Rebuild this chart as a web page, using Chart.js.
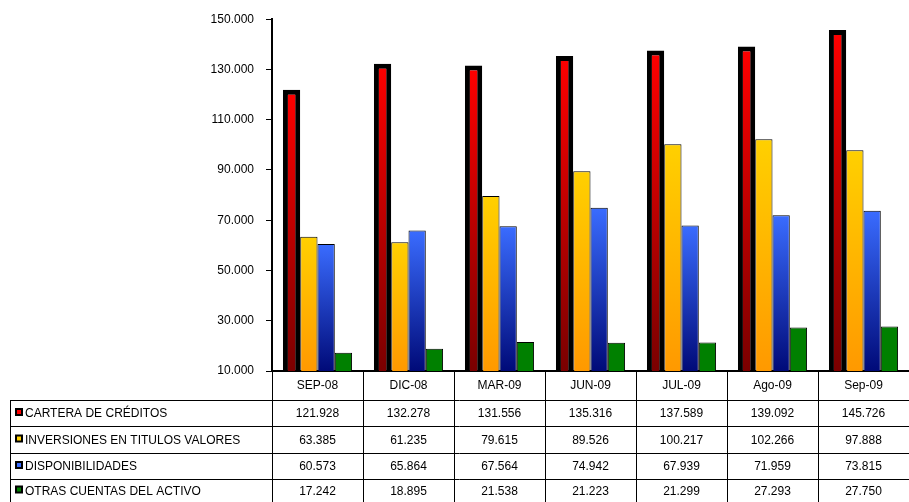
<!DOCTYPE html>
<html><head><meta charset="utf-8">
<script src="https://cdn.jsdelivr.net/npm/chart.js@4"></script>
<style>body{margin:0;background:#fff}#c{display:block}</style>
</head><body>
<div style="width:909px;height:502px"><canvas id="c"></canvas></div>
<script>
var categorias = ["SEP-08", "DIC-08", "MAR-09", "JUN-09", "JUL-09", "Ago-09", "Sep-09"];
var cartera = [121928, 132278, 131556, 135316, 137589, 139092, 145726];
var inversiones = [63385, 61235, 79615, 89526, 100217, 102266, 97888];
var disponibilidades = [60573, 65864, 67564, 74942, 67939, 71959, 73815];
var otras = [17242, 18895, 21538, 21223, 21299, 27293, 27750];
var nombres = ["CARTERA DE CRÉDITOS", "INVERSIONES EN TITULOS VALORES", "DISPONIBILIDADES", "OTRAS CUENTAS DEL ACTIVO"];
var colorTop = ["#ff0000", "#ffd000", "#3a6cff", "#008000"];
var colorBot = ["#7a0000", "#ff9900", "#000a78", "#008000"];

function fmt(v) { return v.toLocaleString("de-DE"); }

function grad(i) {
  return function (c) {
    var a = c.chart.chartArea;
    if (!a || c.raw == null) return colorTop[i];
    var top = c.chart.scales.y.getPixelForValue(c.raw);
    var g = c.chart.ctx.createLinearGradient(0, top, 0, a.bottom);
    g.addColorStop(0, colorTop[i]);
    g.addColorStop(1, colorBot[i]);
    return g;
  };
}

var tabla = {
  id: "tabla",
  afterDraw: function (chart) {
    var ctx = chart.ctx, x = chart.scales.x, a = chart.chartArea;
    var rows = [400, 426, 453, 479, 502];
    var w = x.width / categorias.length;
    var series = [cartera, inversiones, disponibilidades, otras];
    ctx.save();
    ctx.strokeStyle = "#000";
    ctx.lineWidth = 1;
    ctx.beginPath();
    rows.forEach(function (y) { ctx.moveTo(10, y + 0.5); ctx.lineTo(909, y + 0.5); });
    ctx.moveTo(10.5, 400); ctx.lineTo(10.5, 502);
    for (var i = 0; i <= categorias.length; i++) {
      var xx = Math.round(a.left + i * w) + 0.5;
      ctx.moveTo(xx, a.bottom); ctx.lineTo(xx, 502);
    }
    ctx.stroke();
    ctx.font = "12px 'Liberation Sans', Arial";
    ctx.fillStyle = "#000";
    ctx.textAlign = "center";
    ctx.textBaseline = "middle";
    categorias.forEach(function (c, i) {
      var cx = x.getPixelForValue(i);
      ctx.fillText(c, cx, 386);
      series.forEach(function (s, r) { ctx.fillText(fmt(s[i]), cx, (rows[r] + rows[r + 1]) / 2 + 1); });
    });
    ctx.textAlign = "left";
    nombres.forEach(function (n, r) {
      var ym = (rows[r] + rows[r + 1]) / 2;
      ctx.fillStyle = "#000";
      ctx.fillRect(15, ym - 5, 8, 8);
      ctx.fillStyle = colorTop[r];
      ctx.fillRect(17, ym - 3, 4, 4);
      ctx.fillStyle = "#000";
      ctx.fillText(n, 25, ym + 1);
    });
    ctx.restore();
  }
};

var data = [cartera, inversiones, disponibilidades, otras];
new Chart(document.getElementById("c"), {
  type: "bar",
  data: {
    labels: categorias,
    datasets: data.map(function (d, i) {
      return {
        label: nombres[i],
        data: d,
        backgroundColor: grad(i),
        borderColor: "#000",
        borderWidth: i === 0 ? 5 : 1,
        borderSkipped: false,
        barPercentage: 1,
        categoryPercentage: 0.76
      };
    })
  },
  options: {
    responsive: true,
    maintainAspectRatio: false,
    animation: false,
    layout: { padding: { top: 12, bottom: 123, right: 0, left: 0 } },
    plugins: { legend: { display: false }, tooltip: { enabled: false } },
    scales: {
      x: {
        ticks: { display: false },
        grid: { display: false },
        border: { color: "#000", width: 2 }
      },
      y: {
        min: 10000, max: 150000,
        afterFit: function (s) { s.width = 272; },
        ticks: { stepSize: 20000, color: "#000", padding: 12, font: { family: "'Liberation Sans', Arial", size: 12 }, callback: function (v) { return fmt(v); } },
        grid: { drawOnChartArea: false, color: "#000", tickLength: 6 },
        border: { color: "#000", width: 2 }
      }
    }
  },
  plugins: [tabla]
});
</script>
</body></html>
